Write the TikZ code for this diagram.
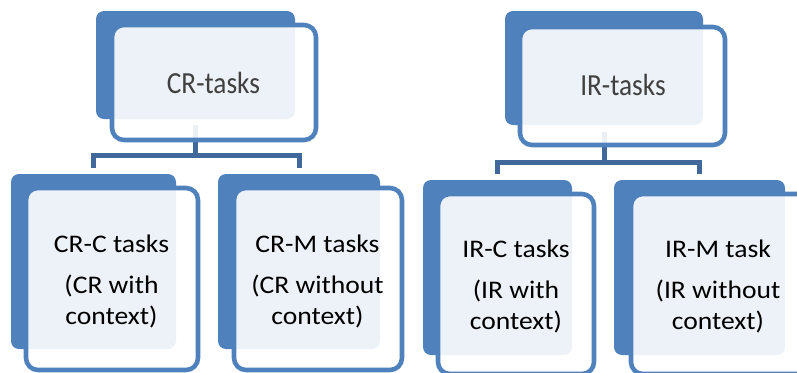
\documentclass[tikz,border=0pt]{standalone}
\usepackage{fontspec}
\setmainfont{Carlito}
\newfontfamily\titlefont[FakeStretch=0.89]{Carlito}
\newfontfamily\boxfont[FakeStretch=1.09]{Carlito}
\usetikzlibrary{fit}
\definecolor{boxblue}{RGB}{79,129,189}
\definecolor{linkblue}{RGB}{65,104,155}
\definecolor{titlegray}{RGB}{64,64,64}
\tikzset{
  backbox/.style={fill=boxblue, rounded corners=6pt, inner sep=0pt, outer sep=0pt},
  frontbox/.style={draw=boxblue, line width=3.4pt, fill=white, fill opacity=0.9,
                   rounded corners=9pt, inner sep=0pt},
  toplabel/.style={anchor=north, inner sep=0pt, text=titlegray,
                   font=\titlefont\fontsize{23}{28}\selectfont},
  sublabel/.style={anchor=north, inner sep=0pt, align=center, text=black,
                   font=\boxfont\fontsize{19}{23.25}\selectfont},
  link/.style={draw=linkblue, line width=3.75pt}
}

\begin{document}
\begin{tikzpicture}[x=0.75pt, y=-0.75pt]
  \useasboundingbox (0,0) rectangle (797,372);

  % back plates
  \node[backbox, fit={(96,11) (295,119)}] (crback) {};
  \node[backbox, fit={(11,174) (176,349)}] (ccback) {};
  \node[backbox, fit={(218,174) (380,349)}] (cmback) {};
  \node[backbox, fit={(505,11) (703,125)}] (irback) {};
  \node[backbox, fit={(423,180) (572,355)}] (icback) {};
  \node[backbox, fit={(614,180) (785,355)}] (imback) {};

  % connectors
  \coordinate (crbar) at (195.5,155.5);
  \coordinate (irbar) at (604,162);
  \draw[link, shorten <=4.5pt] (crback.south) -- (crbar);
  \draw[link, shorten <=4.5pt, shorten >=4.5pt] (ccback.north) |- (crbar) -| (cmback.north);
  \draw[link, shorten <=5pt] (irback.south) -- (irbar);
  \draw[link, shorten <=4.5pt, shorten >=4.5pt] (icback.north) |- (irbar) -| (imback.north);

  % front boxes
  \node[frontbox, fit={(112,25) (316,140)}] (crtasks) {};
  \node[frontbox, fit={(520,27) (725,145)}] (irtasks) {};
  \node[frontbox, fit={(26,188) (198,370)}] (crc) {};
  \node[frontbox, fit={(234,188) (402,370)}] (crm) {};
  \node[frontbox, fit={(438,194) (594,374)}] (irc) {};
  \node[frontbox, fit={(631,194) (812,374)}] (irm) {};

  % texts
  \node[toplabel] (crtext) at (213.5,72) {CR-tasks};
  \node[toplabel] (irtext) at (623,74) {IR-tasks};
  \node[sublabel] (crctext) at (111.5,235) {CR-C tasks\\[7pt](CR with\\context)};
  \node[sublabel] (crmtext) at (317.5,235) {CR-M tasks\\[7pt](CR without\\context)};
  \node[sublabel] (irctext) at (516,240) {IR-C tasks\\[7pt](IR with\\context)};
  \node[sublabel] (irmtext) at (718,240) {IR-M task\\[7pt](IR without\\context)};
\end{tikzpicture}
\end{document}
